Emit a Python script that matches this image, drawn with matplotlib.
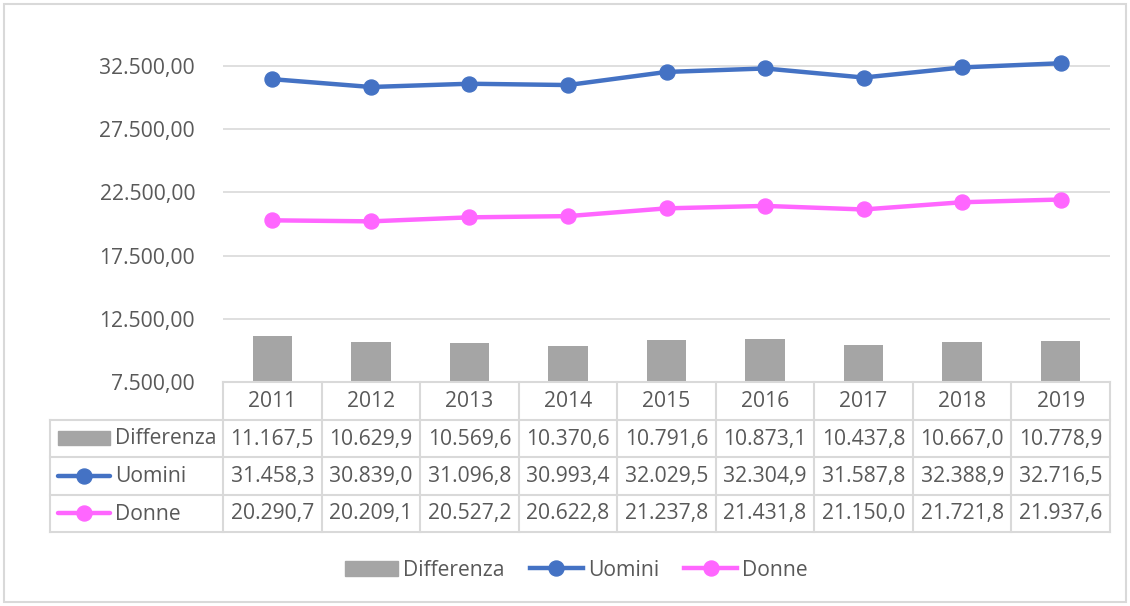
import matplotlib
matplotlib.use("Agg")
import matplotlib.pyplot as plt
from matplotlib.patches import Rectangle
from matplotlib.lines import Line2D
from matplotlib.ticker import FuncFormatter
import numpy as np

years = ["2011", "2012", "2013", "2014", "2015", "2016", "2017", "2018", "2019"]
differenza = [11167.5, 10629.9, 10569.6, 10370.6, 10791.6, 10873.1, 10437.8, 10667.0, 10778.9]
uomini = [31458.3, 30839.0, 31096.8, 30993.4, 32029.5, 32304.9, 31587.8, 32388.9, 32716.5]
donne = [20290.7, 20209.1, 20527.2, 20622.8, 21237.8, 21431.8, 21150.0, 21721.8, 21937.6]
series_names = ["Differenza", "Uomini", "Donne"]
yticks = [7500, 12500, 17500, 22500, 27500, 32500]

GRAY = "#A5A5A5"
BLUE = "#4472C4"
PINK = "#FF66FF"
TXT = "#595959"
GRID = "#D9D9D9"
FONT = "Open Sans"
FS = 15.2

plt.rcParams['font.family'] = [FONT, 'DejaVu Sans']

def it_fmt(v, decimals):
    s = f"{v:,.{decimals}f}"
    return s.replace(",", "X").replace(".", ",").replace("X", ".")

W, H = 1130, 606
fig = plt.figure(figsize=(W / 100, H / 100), dpi=100)

# outer border
fig.patches.append(Rectangle((4 / W, 4 / H), (W - 8) / W, (H - 8) / H, transform=fig.transFigure,
                             fill=False, edgecolor=GRID, linewidth=1.5))

ax_l, ax_r = 223, 1110
ax_b, ax_t = 382, 34.4
ax = fig.add_axes([ax_l / W, 1 - ax_b / H, (ax_r - ax_l) / W, (ax_b - ax_t) / H])
x = np.arange(len(years))
ax.bar(x, differenza, width=0.4, color=GRAY, zorder=2)
ax.plot(x, uomini, color=BLUE, lw=3.2, marker="o", ms=10.8, zorder=3, solid_capstyle="round")
ax.plot(x, donne, color=PINK, lw=3.2, marker="o", ms=10.8, zorder=3, solid_capstyle="round")
ax.set_xlim(-0.5, len(years) - 0.5)
ax.set_ylim(7500, 35000)
ax.set_yticks(yticks)
ax.yaxis.set_major_formatter(FuncFormatter(lambda v, p: it_fmt(v, 2)))
ax.tick_params(axis="y", length=0, pad=20, labelsize=FS, labelcolor=TXT)
ax.set_xticks([])
ax.grid(axis="y", color=GRID, lw=1.2, zorder=0)
for s in ["top", "right", "left"]:
    ax.spines[s].set_visible(False)
ax.spines["bottom"].set_color(GRID)
ax.spines["bottom"].set_linewidth(1.5)

# data table
tb_l, tb_r, tb_t, tb_b = 50, 1110, 382, 532
unit = (ax_r - ax_l) / len(years)
xmin = -0.5 - (ax_l - tb_l) / unit
tab = fig.add_axes([tb_l / W, 1 - tb_b / H, (tb_r - tb_l) / W, (tb_b - tb_t) / H])
tab.set_xlim(xmin, len(years) - 0.5)
tab.set_ylim(4, 0)
tab.axis("off")
lc = dict(color=GRID, lw=1.5, clip_on=False)
for r in range(1, 5):
    tab.plot([xmin, len(years) - 0.5], [r, r], **lc)
for k in range(len(years) + 1):
    tab.plot([k - 0.5, k - 0.5], [0, 4], **lc)
tab.plot([xmin, xmin], [1, 4], **lc)

for i, yv in enumerate(years):
    tab.text(i, 0.52, yv, ha="center", va="center", fontsize=FS, color=TXT)
rows = [differenza, uomini, donne]
for r, vals in enumerate(rows, start=1):
    for i, v in enumerate(vals):
        tab.text(i, r + 0.52, it_fmt(v, 1), ha="center", va="center", fontsize=FS, color=TXT)

def px2x(px):
    return xmin + (px - tb_l) / unit

# row labels with keys
tab.add_patch(Rectangle((px2x(58), 1.5 - 0.19), px2x(110) - px2x(58), 0.38, color=GRAY, clip_on=False))
for r, col in [(2, BLUE), (3, PINK)]:
    tab.plot([px2x(58), px2x(110)], [r + 0.5, r + 0.5], color=col, lw=3.2, clip_on=False,
             solid_capstyle="round")
    tab.plot([px2x(84)], [r + 0.5], marker="o", ms=10.8, color=col, clip_on=False)
for r, name in enumerate(series_names, start=1):
    tab.text(px2x(115), r + 0.52, name, ha="left", va="center", fontsize=FS, color=TXT)

# legend
handles = [Rectangle((0, 0), 1, 1, color=GRAY),
           Line2D([], [], color=BLUE, lw=3.2, marker="o", ms=10.8),
           Line2D([], [], color=PINK, lw=3.2, marker="o", ms=10.8)]
leg = fig.legend(handles, series_names, loc="center", bbox_to_anchor=(576.5 / W, 1 - 570 / H), ncol=3,
                 frameon=False, fontsize=FS, handlelength=2.5, handletextpad=0.25,
                 columnspacing=1.2, labelcolor=TXT)

fig.savefig("out.png", dpi=100)
